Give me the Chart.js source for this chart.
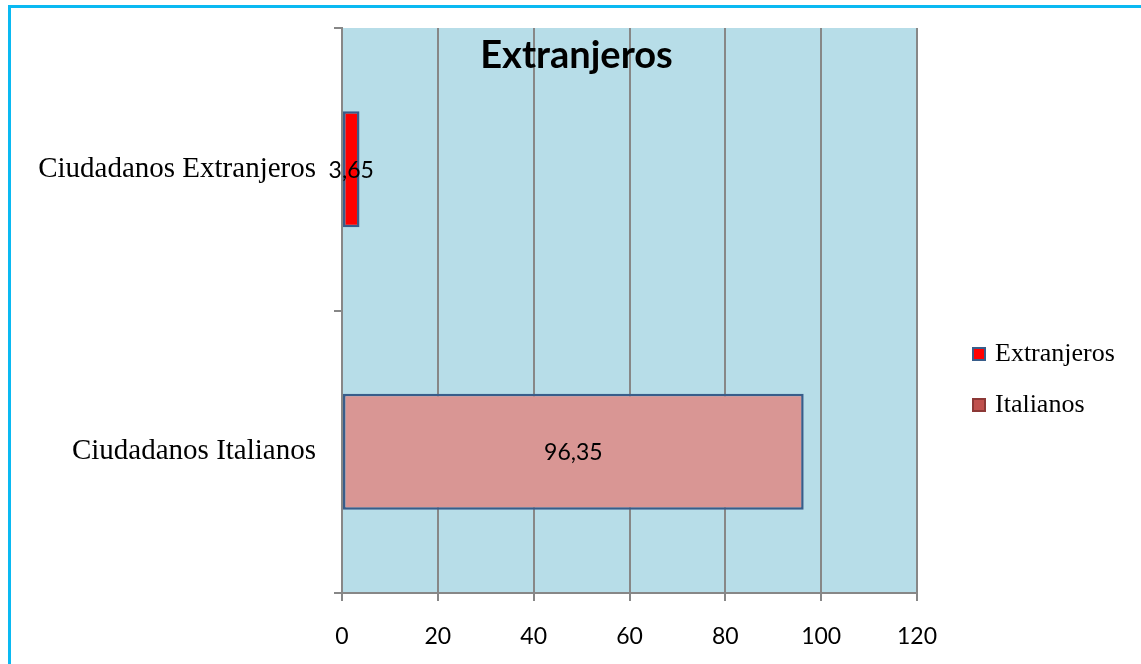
<!DOCTYPE html>
<html>
<head>
<meta charset="utf-8">
<script src="https://cdn.jsdelivr.net/npm/chart.js@4/dist/chart.umd.min.js"></script>
<style>
  html, body { margin: 0; padding: 0; background: #fff; }
  #wrap { position: relative; width: 1141px; height: 664px; }
  #frame {
    position: absolute; left: 8px; top: 5px; right: 0; bottom: 0;
    border-top: 3px solid #0AB9F2; border-left: 3px solid #0AB9F2;
    pointer-events: none;
  }
  canvas { position: absolute; left: 0; top: 0; }
</style>
</head>
<body>
<div id="wrap">
  <canvas id="myChart" width="1141" height="664"></canvas>
  <div id="frame"></div>
</div>
<script>
const categories = ["Ciudadanos Extranjeros", "Ciudadanos Italianos"];
const seriesNames = ["Extranjeros", "Italianos"];
const extranjerosValues = [3.65, null];
const italianosValues = [null, 96.35];
const xTicks = [0, 20, 40, 60, 80, 100, 120];

const barColors = ["#FF0000", "#D99694"];
const legendColors = ["#FF0000", "#C0504D"];
const legendBorders = ["#385D8A", "#8C3836"];
const chartTitle = "Extranjeros";

const sansFont = "Lato, 'Open Sans', sans-serif";
const serifFont = "'Liberation Serif', 'DejaVu Serif', serif";

const fmt = (v) => String(v).replace(".", ",");

// plot background, title, data labels and legend
const decorations = {
  id: "decorations",
  beforeDraw(chart) {
    const { ctx, chartArea: a } = chart;
    ctx.save();
    ctx.fillStyle = "#B7DDE8";
    ctx.fillRect(a.left, a.top, a.right - a.left, a.bottom - a.top);
    ctx.restore();
  },
  afterDatasetsDraw(chart) {
    const { ctx } = chart;
    ctx.save();
    ctx.fillStyle = "#000";
    ctx.textAlign = "center";
    ctx.textBaseline = "middle";
    ctx.font = "23px " + sansFont;
    chart.data.datasets.forEach((ds, i) => {
      chart.getDatasetMeta(i).data.forEach((el, j) => {
        if (ds.data[j] == null) return;
        const p = el.getCenterPoint();
        ctx.fillText(fmt(ds.data[j]), p.x, p.y + 1);
      });
    });
    ctx.restore();
  },
  afterDraw(chart) {
    const { ctx, chartArea: a } = chart;
    ctx.save();
    ctx.fillStyle = "#000";
    ctx.textAlign = "center";
    ctx.textBaseline = "middle";
    ctx.font = "bold 38px " + sansFont;
    ctx.fillText(chartTitle, chart.width / 2 + 6, a.top + 28);

    ctx.textAlign = "left";
    ctx.font = "26px " + serifFont;
    seriesNames.forEach((name, i) => {
      const x = a.right + 56;
      const y = a.top + 326 + i * 51;
      ctx.fillStyle = legendColors[i];
      ctx.fillRect(x, y - 6, 12, 12);
      ctx.strokeStyle = legendBorders[i];
      ctx.lineWidth = 2;
      ctx.strokeRect(x, y - 6, 12, 12);
      ctx.fillStyle = "#000";
      ctx.fillText(name, x + 22, y);
    });
    ctx.restore();
  }
};

new Chart(document.getElementById("myChart"), {
  type: "bar",
  data: {
    labels: categories,
    datasets: [
      {
        label: seriesNames[0],
        data: extranjerosValues,
        backgroundColor: barColors[0],
        borderColor: "#385D8A",
        borderWidth: 2.5,
        borderSkipped: false,
      },
      {
        label: seriesNames[1],
        data: italianosValues,
        backgroundColor: barColors[1],
        borderColor: "#385D8A",
        borderWidth: 2.5,
        borderSkipped: false,
      },
    ],
  },
  options: {
    indexAxis: "y",
    responsive: false,
    animation: false,
    categoryPercentage: 0.41,
    barPercentage: 1,
    layout: { padding: { top: 28, right: 224, left: 0, bottom: 0 } },
    plugins: {
      legend: { display: false },
      title: { display: false },
      tooltip: { enabled: false },
    },
    scales: {
      x: {
        min: 0,
        max: 120,
        afterBuildTicks: (scale) => {
          scale.ticks = xTicks.map((v) => ({ value: v }));
        },
        afterFit: (scale) => { scale.height = 71; },
        grid: { color: "#878787", lineWidth: 2, tickLength: 8 },
        border: { color: "#878787", width: 2 },
        ticks: {
          color: "#000",
          padding: 22,
          font: { family: sansFont, size: 23 },
        },
      },
      y: {
        stacked: true,
        afterFit: (scale) => {
          scale.width = 342;
          scale.paddingTop = 0;
          scale.paddingBottom = 0;
        },
        grid: { offset: true, drawOnChartArea: false, color: "#878787", lineWidth: 2, tickLength: 8 },
        border: { color: "#878787", width: 2 },
        ticks: {
          color: "#000",
          padding: 18,
          font: { family: serifFont, size: 29 },
        },
      },
    },
  },
  plugins: [decorations],
});
</script>
</body>
</html>
